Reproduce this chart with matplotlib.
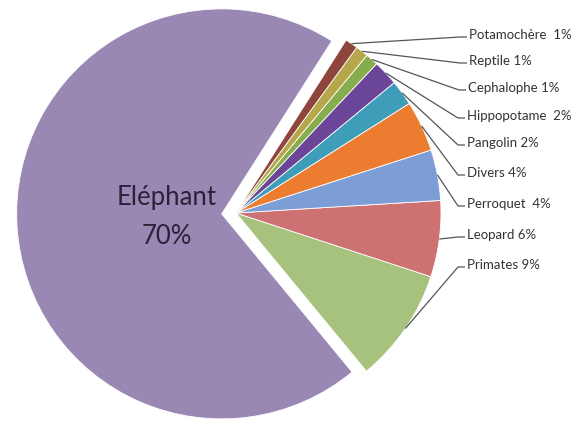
import matplotlib
matplotlib.use('Agg')
import matplotlib.pyplot as plt
import numpy as np

categories = ['Primates', 'Leopard', 'Perroquet', 'Divers', 'Pangolin',
              'Hippopotame', 'Cephalophe', 'Reptile', 'Potamochère', 'Eléphant']
values = [9, 6, 4, 4, 2, 2, 1, 1, 1, 70]
label_texts = ['Primates 9%', 'Leopard 6%', 'Perroquet  4%', 'Divers 4%', 'Pangolin 2%',
               'Hippopotame  2%', 'Cephalophe 1%', 'Reptile 1%', 'Potamochère  1%']
colors = ['#A6C27C', '#CD7172', '#7D9DD6', '#EC7C30', '#3E9DB9',
          '#6B4597', '#86AD4C', '#B5A74A', '#8E453C', '#9A88B4']

W, H = 577, 423
fig = plt.figure(figsize=(W / 100, H / 100), dpi=100)
ax = fig.add_axes([0, 0, 1, 1])

cx, cy = 236, H - 213
R = 205
explode = [0] * 9 + [0.07 * R]
wedges, _ = ax.pie(values, colors=colors, startangle=-50.5, counterclock=True,
                   radius=R, center=(cx, cy), explode=explode, frame=True,
                   wedgeprops=dict(edgecolor='white', linewidth=0.6))
ax.set_xlim(0, W)
ax.set_ylim(0, H)
ax.set_aspect('equal')
ax.axis('off')

# label layout (pixel coords from top)
label_y = [265, 235, 204, 173, 143, 116, 88, 61, 35]
label_x = [467, 467, 467, 467, 467, 467, 468, 469, 469]

font = ['Lato', 'DejaVu Sans']
for i, w in enumerate(wedges[:9]):
    ang = np.deg2rad((w.theta1 + w.theta2) / 2)
    x0 = w.center[0] + w.r * np.cos(ang)
    y0 = w.center[1] + w.r * np.sin(ang)
    ty = H - label_y[i]
    tx = label_x[i]
    ly = ty - 2
    ax.plot([x0, tx - 9, tx - 2], [y0, ly, ly], color='#555555', lw=0.9,
            solid_capstyle='butt', zorder=3)
    ax.text(tx, ty, label_texts[i], ha='left', va='center', fontsize=9.5,
            family=font, color='#333333')

ew = wedges[9]
ang = np.deg2rad((ew.theta1 + ew.theta2) / 2)
ex = ew.center[0] + 0.27 * ew.r * np.cos(ang)
ey = ew.center[1] + 0.27 * ew.r * np.sin(ang)
ax.text(ex, ey, f'{categories[9]}\n{values[9]}%', ha='center', va='center',
        fontsize=18.5, family=font, color='#2a2238', linespacing=1.7)

fig.savefig('out.png', dpi=100, facecolor='white')
